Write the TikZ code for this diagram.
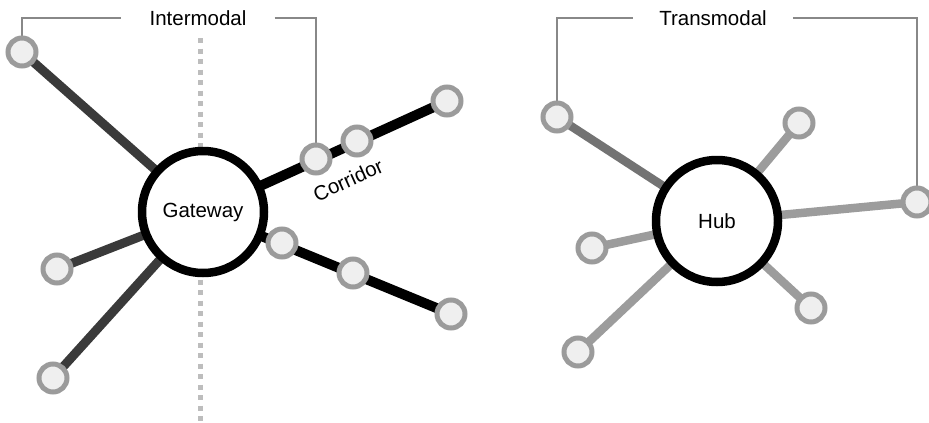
\documentclass[tikz,border=0pt]{standalone}
\usepackage{fontspec}
\setmainfont{Liberation Sans}
\usetikzlibrary{backgrounds}
\definecolor{darkspoke}{HTML}{3A3A3A}
\definecolor{midspoke}{HTML}{737373}
\definecolor{lightspoke}{HTML}{9C9C9C}
\definecolor{nodestroke}{HTML}{9B9B9B}
\definecolor{nodefill}{HTML}{EFEFEF}
\definecolor{bracketcol}{HTML}{888888}
\definecolor{dotcol}{HTML}{BDBDBD}
\tikzset{
  stop/.style={circle, draw=nodestroke, fill=nodefill, line width=5pt, minimum size=28pt, inner sep=0pt},
  bigc/.style={circle, draw=black, fill=white, line width=8.5pt, minimum size=122pt, inner sep=0pt, font=\fontsize{20.5}{24}\selectfont},
  lbl/.style={font=\fontsize{20.5}{24}\selectfont, inner ysep=0pt},
  darkline/.style={draw=darkspoke, line width=9pt},
  blackline/.style={draw=black, line width=10pt},
  midline/.style={draw=midspoke, line width=8.5pt},
  lightline/.style={draw=lightspoke, line width=8.5pt},
  bracket/.style={draw=bracketcol, line width=2pt},
  divider/.style={draw=dotcol, line width=5pt, dash pattern=on 5pt off 5.5pt}
}
\begin{document}
\begin{tikzpicture}[x=1pt,y=-1pt]
\useasboundingbox (0,0) rectangle (929,423);
% left part
\node[bigc] (gw) at (203,212) {Gateway};
\node[stop] (a1) at (22,52) {};
\node[stop] (a2) at (57,269) {};
\node[stop] (a3) at (53,378) {};
\node[stop] (b1) at (316,159) {};
\node[stop] (b2) at (357,141) {};
\node[stop] (b3) at (447,101) {};
\node[stop] (c1) at (282,243) {};
\node[stop] (c2) at (353,273) {};
\node[stop] (c3) at (451,314) {};
\coordinate (dtop) at (200,38);
\coordinate (dbot) at (200,423);
\node[lbl, inner xsep=28pt] (inter) at (198,18) {Intermodal};
\node[lbl, inner sep=0pt, rotate=24.5] (corr) at (348,180) {Corridor};
% right part
\node[bigc] (hub) at (717,221) {Hub};
\node[stop] (d1) at (557,117) {};
\node[stop] (d2) at (799,123) {};
\node[stop] (d3) at (917,202) {};
\node[stop] (d4) at (592,248) {};
\node[stop] (d5) at (578,352) {};
\node[stop] (d6) at (811,308) {};
\node[lbl, inner xsep=26pt] (trans) at (713,18) {Transmodal};
\begin{scope}[on background layer]
  \draw[divider] (dtop) -- (dbot);
  \draw[darkline] (gw.center) -- (a1.center);
  \draw[darkline] (gw.center) -- (a2.center);
  \draw[darkline] (gw.center) -- (a3.center);
  \draw[blackline] (gw.center) -- (b3.center);
  \draw[blackline] (gw.center) -- (c3.center);
  \draw[midline] (hub.center) -- (d1.center);
  \draw[lightline] (hub.center) -- (d2.center);
  \draw[lightline] (hub.center) -- (d3.center);
  \draw[lightline] (hub.center) -- (d4.center);
  \draw[lightline] (hub.center) -- (d5.center);
  \draw[lightline] (hub.center) -- (d6.center);
  \draw[bracket] (a1.north) |- (inter.west);
  \draw[bracket] (inter.east) -| (b1.north);
  \draw[bracket] (d1.north) |- (trans.west);
  \draw[bracket] (trans.east) -| (d3.north);
\end{scope}
\end{tikzpicture}
\end{document}
